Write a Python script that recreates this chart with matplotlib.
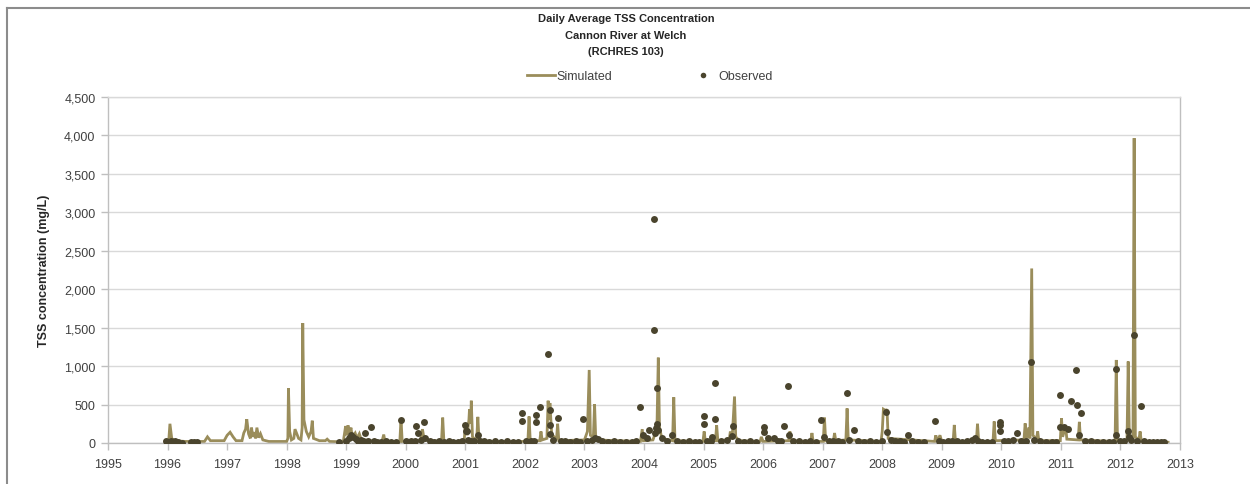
import matplotlib
matplotlib.use('Agg')
import matplotlib.pyplot as plt
from matplotlib.lines import Line2D
from matplotlib.ticker import FuncFormatter, MultipleLocator

plt.rcParams['font.family'] = ['Liberation Sans', 'DejaVu Sans']

# Simulated daily TSS (decimal year, mg/L) - vertices
sim_years = [
    1995.96, 1996.02, 1996.04, 1996.07, 1996.12, 1996.30, 1996.62, 1996.67, 1996.72, 1996.95,
    1997.00, 1997.05, 1997.10, 1997.15, 1997.25, 1997.28, 1997.31, 1997.33, 1997.36, 1997.39,
    1997.41, 1997.43, 1997.46, 1997.48, 1997.50, 1997.53, 1997.56, 1997.60, 1997.70, 1998.00,
    1998.02, 1998.03, 1998.05, 1998.08, 1998.12, 1998.14, 1998.17, 1998.20, 1998.24, 1998.26,
    1998.27, 1998.29, 1998.33, 1998.37, 1998.41, 1998.43, 1998.45, 1998.55, 1998.65, 1998.68,
    1998.72, 1998.95, 1998.99, 1999.01, 1999.03, 1999.05, 1999.08, 1999.10, 1999.15, 1999.18,
    1999.22, 1999.25, 1999.40, 1999.60, 1999.63, 1999.65, 1999.90, 1999.92, 1999.94, 2000.25,
    2000.28, 2000.31, 2000.60, 2000.62, 2000.64, 2000.98, 2001.00, 2001.03, 2001.06, 2001.07,
    2001.09, 2001.10, 2001.12, 2001.19, 2001.21, 2001.23, 2001.50, 2002.05, 2002.07, 2002.09,
    2002.25, 2002.27, 2002.29, 2002.37, 2002.39, 2002.41, 2002.42, 2002.45, 2002.53, 2002.55,
    2002.57, 2003.00, 2003.05, 2003.08, 2003.10, 2003.15, 2003.17, 2003.19, 2003.94, 2003.97,
    2003.99, 2004.15, 2004.20, 2004.22, 2004.24, 2004.26, 2004.30, 2004.48, 2004.50, 2004.52,
    2004.99, 2005.01, 2005.03, 2005.20, 2005.22, 2005.24, 2005.43, 2005.45, 2005.48, 2005.52,
    2005.54, 2005.60, 2005.95, 2005.97, 2006.00, 2006.43, 2006.45, 2006.47, 2006.80, 2006.82,
    2006.84, 2007.01, 2007.03, 2007.05, 2007.18, 2007.20, 2007.22, 2007.39, 2007.41, 2007.43,
    2007.98, 2008.00, 2008.02, 2008.06, 2008.08, 2008.10, 2008.88, 2008.90, 2008.92, 2008.97,
    2009.00, 2009.19, 2009.21, 2009.23, 2009.58, 2009.60, 2009.62, 2009.86, 2009.88, 2009.90,
    2010.38, 2010.40, 2010.42, 2010.46, 2010.48, 2010.51, 2010.53, 2010.59, 2010.61, 2010.63,
    2010.99, 2011.01, 2011.03, 2011.08, 2011.10, 2011.29, 2011.31, 2011.33, 2011.91, 2011.93,
    2011.95, 2012.11, 2012.13, 2012.15, 2012.21, 2012.23, 2012.25, 2012.31, 2012.33, 2012.35,
    2012.80,
]
sim_vals = [
    20, 30, 250, 60, 30, 20, 20, 80, 30, 30,
    100, 140, 80, 30, 30, 130, 180, 310, 120, 60,
    200, 80, 140, 60, 200, 70, 120, 40, 20, 20,
    60, 710, 150, 40, 60, 180, 120, 60, 40, 200,
    1560, 300, 150, 80, 150, 290, 60, 30, 30, 50,
    20, 15, 220, 100, 230, 120, 200, 80, 130, 60,
    120, 50, 30, 20, 110, 20, 20, 310, 20, 30,
    180, 40, 20, 330, 20, 20, 240, 100, 300, 440,
    250, 550, 80, 30, 340, 30, 20, 20, 345, 30,
    30, 150, 40, 60, 550, 300, 520, 120, 40, 250,
    30, 40, 150, 950, 100, 80, 505, 40, 20, 180,
    30, 40, 150, 300, 1110, 200, 60, 30, 595, 30,
    20, 150, 20, 30, 230, 30, 40, 150, 60, 605,
    80, 30, 20, 80, 20, 30, 150, 30, 20, 130,
    20, 20, 330, 30, 30, 130, 30, 40, 450, 40,
    20, 150, 440, 420, 440, 60, 20, 100, 20, 100,
    20, 20, 235, 20, 20, 250, 20, 20, 280, 30,
    40, 255, 60, 200, 60, 2270, 100, 50, 150, 30,
    30, 320, 80, 220, 50, 40, 275, 40, 20, 1080,
    30, 30, 1060, 60, 30, 3965, 80, 40, 150, 20,
    10,
]

# Observed grab samples (decimal year, mg/L)
obs_years = [
    1995.97, 1996.05, 1996.12, 1996.17, 1996.25, 1996.40, 1996.45, 1996.50, 1998.88,
    1999.00, 1999.04, 1999.08, 1999.12, 1999.16, 1999.20, 1999.24, 1999.28, 1999.32, 1999.36,
    1999.42, 1999.46, 1999.52, 1999.58, 1999.66, 1999.75, 1999.84, 1999.92,
    2000.00, 2000.08, 2000.15, 2000.18, 2000.20, 2000.25, 2000.30, 2000.33, 2000.40, 2000.48,
    2000.56, 2000.65, 2000.72, 2000.80, 2000.88, 2000.95,
    2001.00, 2001.01, 2001.03, 2001.05, 2001.10, 2001.15, 2001.21, 2001.25, 2001.32, 2001.40,
    2001.50, 2001.60, 2001.70, 2001.80, 2001.88,
    2001.95, 2001.95, 2002.02, 2002.10, 2002.15, 2002.19, 2002.19, 2002.25, 2002.39, 2002.42,
    2002.43, 2002.42, 2002.48, 2002.56, 2002.60, 2002.68, 2002.76, 2002.85, 2002.92,
    2002.98, 2003.05, 2003.12, 2003.18, 2003.22, 2003.30, 2003.40, 2003.50, 2003.60, 2003.70,
    2003.80, 2003.87,
    2003.94, 2003.98, 2004.05, 2004.08, 2004.17, 2004.17, 2004.22, 2004.18, 2004.20, 2004.21,
    2004.24, 2004.30, 2004.38, 2004.47, 2004.55, 2004.65, 2004.75, 2004.85, 2004.93,
    2005.00, 2005.00, 2005.05, 2005.12, 2005.19, 2005.19, 2005.15, 2005.30, 2005.40, 2005.47,
    2005.49, 2005.58, 2005.68, 2005.78, 2005.88,
    2006.02, 2006.02, 2006.08, 2006.18, 2006.25, 2006.30, 2006.35, 2006.42, 2006.44, 2006.50,
    2006.60, 2006.70, 2006.78, 2006.88,
    2006.97, 2007.03, 2007.10, 2007.18, 2007.25, 2007.32, 2007.41, 2007.44, 2007.53, 2007.60,
    2007.70, 2007.80, 2007.90,
    2008.00, 2008.06, 2008.08, 2008.15, 2008.22, 2008.30, 2008.37, 2008.43, 2008.50, 2008.60,
    2008.70,
    2008.89, 2008.95, 2009.02, 2009.10, 2009.18, 2009.26, 2009.34, 2009.42, 2009.50, 2009.55,
    2009.60, 2009.68, 2009.76, 2009.84,
    2009.97, 2009.97, 2009.97, 2010.05, 2010.12, 2010.20, 2010.27, 2010.33, 2010.42, 2010.50,
    2010.55, 2010.65, 2010.75, 2010.85, 2010.92,
    2010.98, 2010.99, 2011.05, 2011.12, 2011.17, 2011.25, 2011.27, 2011.30, 2011.34, 2011.40,
    2011.50, 2011.60, 2011.70, 2011.80, 2011.87,
    2011.93, 2011.93, 2012.00, 2012.06, 2012.12, 2012.14, 2012.18, 2012.23, 2012.28, 2012.34,
    2012.40, 2012.48, 2012.55, 2012.62, 2012.68, 2012.73,
]
obs_vals = [
    20, 25, 20, 15, 5, 10, 10, 10, 10,
    20, 60, 100, 80, 50, 30, 40, 20, 126, 30,
    204, 20, 15, 10, 20, 15, 10, 305,
    20, 25, 30, 225, 126, 40, 268, 60, 20, 15,
    20, 15, 20, 10, 15, 20,
    240, 160, 150, 40, 30, 20, 100, 30, 20, 15,
    20, 15, 20, 10, 15,
    390, 290, 20, 30, 20, 370, 277, 463, 1157, 430,
    240, 117, 40, 320, 30, 20, 15, 20, 10,
    312, 20, 40, 60, 50, 20, 15, 20, 15, 10,
    15, 20,
    472, 100, 60, 170, 2910, 1475, 715, 130, 200, 250,
    170, 70, 30, 100, 20, 15, 20, 10, 15,
    347, 243, 20, 30, 780, 312, 80, 20, 40, 90,
    221, 20, 15, 20, 10,
    204, 139, 60, 60, 20, 30, 225, 745, 100, 20,
    30, 15, 20, 10,
    303, 80, 20, 30, 20, 15, 650, 40, 170, 20,
    15, 20, 10,
    30, 400, 147, 40, 30, 20, 15, 100, 20, 10,
    15,
    286, 20, 15, 20, 30, 20, 15, 20, 40, 60,
    30, 15, 10, 15,
    277, 234, 152, 20, 30, 40, 126, 30, 20, 1057,
    40, 20, 15, 10, 15,
    628, 208, 208, 187, 550, 949, 494, 110, 390, 30,
    20, 15, 10, 15, 10,
    962, 108, 20, 30, 152, 80, 40, 1408, 30, 485,
    20, 15, 10, 15, 10, 10,
]

sim_color = '#9A8D5B'
obs_color = '#4A442D'
grid_color = '#D9D9D9'
axis_color = '#BFBFBF'
text_color = '#404040'

fig = plt.figure(figsize=(12.5, 4.85), dpi=100)
ax = fig.add_axes([108 / 1250, 1 - 444 / 485, (1180 - 108) / 1250, (444 - 98) / 485])

ax.plot(sim_years, sim_vals, color=sim_color, linewidth=2, solid_joinstyle='miter', zorder=2)
ax.plot(obs_years, obs_vals, linestyle='none', marker='o', markersize=5,
        color=obs_color, markeredgewidth=0, zorder=3)

ax.set_xlim(1995, 2013)
ax.set_ylim(0, 4500)
ax.xaxis.set_major_locator(MultipleLocator(1))
ax.yaxis.set_major_locator(MultipleLocator(500))
ax.xaxis.set_major_formatter(FuncFormatter(lambda x, p: f'{int(round(x))}'))
ax.yaxis.set_major_formatter(FuncFormatter(lambda y, p: f'{int(y):,}'))
ax.tick_params(axis='both', direction='out', length=5, color=axis_color,
               labelsize=9, labelcolor=text_color, width=1)
ax.tick_params(axis='y', pad=4)
ax.tick_params(axis='x', pad=6)
ax.grid(axis='y', color=grid_color, linewidth=1)
ax.set_axisbelow(True)
for s in ax.spines.values():
    s.set_color(axis_color)
    s.set_linewidth(1)
ax.spines['top'].set_color(grid_color)

ax.set_ylabel('TSS concentration (mg/L)', fontsize=9, fontweight='bold', color='#262626', labelpad=10)

fig.text(626 / 1250, 1 - 19 / 485, 'Daily Average TSS Concentration', ha='center', va='center',
         fontsize=8, fontweight='bold', color='#262626')
fig.text(626 / 1250, 1 - 36 / 485, 'Cannon River at Welch', ha='center', va='center',
         fontsize=8, fontweight='bold', color='#262626')
fig.text(626 / 1250, 1 - 52 / 485, '(RCHRES 103)', ha='center', va='center',
         fontsize=8, fontweight='bold', color='#262626')

handles = [Line2D([], [], color=sim_color, linewidth=2),
           Line2D([], [], linestyle='none', marker='o', markersize=4, color=obs_color, markeredgewidth=0)]
fig.legend(handles, ['Simulated', 'Observed'], loc='center', bbox_to_anchor=(650 / 1250, 1 - 77 / 485),
           ncol=2, frameon=False, fontsize=9, handlelength=2.2, handletextpad=0.1,
           columnspacing=6.2, labelcolor=text_color)

# outer chart frame
fig.add_artist(Line2D([7 / 1250, 1.0], [1 - 9 / 485, 1 - 9 / 485], transform=fig.transFigure,
                      color='#8C8C8C', linewidth=1.5))
fig.add_artist(Line2D([7 / 1250, 7 / 1250], [0.0, 1 - 9 / 485], transform=fig.transFigure,
                      color='#8C8C8C', linewidth=1.5))

fig.savefig('out.png', dpi=100)
